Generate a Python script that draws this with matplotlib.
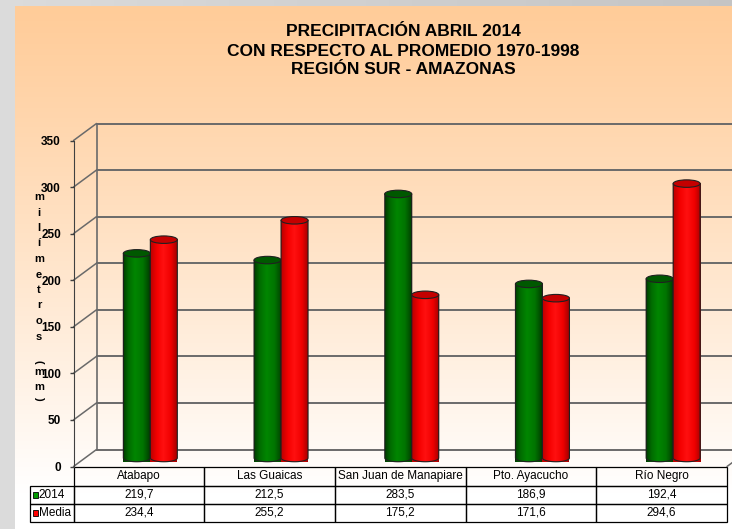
import numpy as np
import matplotlib
matplotlib.use("Agg")
import matplotlib.pyplot as plt
from matplotlib.transforms import ScaledTranslation
from matplotlib.patches import Polygon, Ellipse, Rectangle, ConnectionPatch
from matplotlib.colors import LinearSegmentedColormap
from matplotlib.table import Table

plt.rcParams["font.family"] = ["Liberation Sans", "DejaVu Sans"]

# data
categories = ["Atabapo", "Las Guaicas", "San Juan de Manapiare", "Pto. Ayacucho", "Río Negro"]
series_names = ["2014", "Media"]
values_2014 = [219.7, 212.5, 283.5, 186.9, 192.4]
values_media = [234.4, 255.2, 175.2, 171.6, 294.6]
y_ticks = [0, 50, 100, 150, 200, 250, 300, 350]
title_lines = ["PRECIPITACIÓN ABRIL 2014", "CON RESPECTO AL PROMEDIO 1970-1998", "REGIÓN SUR - AMAZONAS"]
y_label = "milímetros (mm)"

W, H = 732, 529
fig = plt.figure(figsize=(W / 100, H / 100), dpi=100)


def fy(py):
    return (H - py) / H


# background: gray frame + peach gradient
frame = fig.add_axes([0, 0, 1, 1], zorder=-20)
frame.axis("off")
gray = np.linspace(0.86, 0.77, 32).reshape(1, -1)
frame.imshow(np.dstack([gray] * 3), extent=(0, 1, 0, 1), aspect="auto")
bg = fig.add_axes([15 / W, 0, 1 - 15 / W, fy(6)], zorder=-10)
bg.axis("off")
t = np.clip(np.linspace(0, 1, 256) ** 1.1 * 1.08, 0, 1).reshape(-1, 1)
top_c = np.array([255, 204, 153]) / 255
grad = top_c + (1 - top_c) * t[..., None]
bg.imshow(grad, extent=(0, 1, 0, 1), aspect="auto")

# front plane axes
ax = fig.add_axes([73.5 / W, fy(466.5), (727 - 73.5) / W, 326 / H])
ax.patch.set_alpha(0)
dx, dy = 23, 17
back = ax.transData + ScaledTranslation(dx / 100, dy / 100, fig.dpi_scale_trans)
mid = ax.transData + ScaledTranslation(dx / 200, dy / 200, fig.dpi_scale_trans)

grid_c = "#6a6a6a"
for v in y_ticks:
    ax.plot([-0.5, 4.5], [v, v], transform=back, color=grid_c, lw=1.4, clip_on=False, zorder=1)
    ax.add_artist(ConnectionPatch((-0.5, v), (-0.5, v), coordsA=ax.transData, coordsB=back,
                                  color=grid_c, lw=1.1, zorder=1, clip_on=False))
ax.plot([-0.5, -0.5], [0, 350], transform=back, color=grid_c, lw=1.2, clip_on=False, zorder=1)
ax.add_artist(ConnectionPatch((4.5, 0), (4.5, 0), coordsA=ax.transData, coordsB=back,
                              color=grid_c, lw=1.1, zorder=1, clip_on=False))

# cylinders
green_cmap = LinearSegmentedColormap.from_list(
    "g", [(0, "#003c00"), (0.2, "#006c00"), (0.45, "#008600"), (0.75, "#007400"), (1, "#004000")])
red_cmap = LinearSegmentedColormap.from_list(
    "r", [(0, "#b80000"), (0.25, "#f40000"), (0.5, "#ff1010"), (0.78, "#f00000"), (1, "#a80000")])
shade = np.linspace(0, 1, 64).reshape(1, -1)
bar_w = 27 / 130.7
ell_h = 7.5 * 350 / 326


def cylinder(xc, v, cmap, top_color, z):
    x0, x1 = xc - bar_w / 2, xc + bar_w / 2
    a = np.linspace(np.pi, 2 * np.pi, 40)
    pts = [(x0, v)] + list(zip(xc + bar_w / 2 * np.cos(a), ell_h / 2 * np.sin(a))) + [(x1, v)]
    body = Polygon(pts, closed=True, transform=mid, facecolor="none",
                   edgecolor="#202020", lw=0.8, zorder=z + 0.05, clip_on=False)
    ax.add_patch(body)
    im = ax.imshow(shade, cmap=cmap, extent=(x0, x1, -ell_h / 2, v), transform=mid,
                   aspect="auto", interpolation="bilinear", zorder=z, clip_on=False)
    im.set_clip_path(body)
    ax.add_patch(Ellipse((xc, v), bar_w, ell_h, transform=mid, facecolor=top_color,
                         edgecolor="#202020", lw=0.8, zorder=z + 0.1, clip_on=False))


for i in range(len(categories)):
    cylinder(i - bar_w / 2, values_2014[i], green_cmap, "#005800", 3 + i)
    cylinder(i + bar_w / 2, values_media[i], red_cmap, "#c40000", 3.5 + i)

ax.set_xlim(-0.5, 4.5)
ax.set_ylim(0, 350)
ax.set_xticks([])
ax.set_yticks(y_ticks)
for s in ["top", "right", "bottom"]:
    ax.spines[s].set_visible(False)
ax.spines["left"].set_color("#404040")
ax.tick_params(axis="y", direction="out", length=3, width=1, color="#404040", pad=6, labelsize=8.5)
for lbl in ax.get_yticklabels():
    lbl.set_fontweight("bold")

# data table under the floor
fmt = lambda v: f"{v:.1f}".replace(".", ",")
label_w = 43.5 / 653.5
head_h, row_h = 19 / 326, 18 / 326
tbl = Table(ax, bbox=[-label_w, -(head_h + 2 * row_h), 1 + label_w, head_h + 2 * row_h])
tbl.auto_set_font_size(False)
for c, name in enumerate(categories):
    tbl.add_cell(0, c + 1, 0.2, head_h, text=name, loc="center", facecolor="none")
corner = tbl.add_cell(0, 0, label_w, head_h, text="", facecolor="none")
corner.visible_edges = "open"
for r, (name, vals) in enumerate(zip(series_names, [values_2014, values_media])):
    cell = tbl.add_cell(r + 1, 0, label_w, row_h, text=name, loc="left", facecolor="none")
    cell.PAD = 0.2
    for c, v in enumerate(vals):
        tbl.add_cell(r + 1, c + 1, 0.2, row_h, text=fmt(v), loc="center", facecolor="none")
tbl.set_fontsize(8.5)
for cell in tbl.get_celld().values():
    cell.set_edgecolor("black")
    cell.set_linewidth(0.9)
ax.add_table(tbl)

key_colors = ["#009a00", "#ff0000"]
for k, col in enumerate(key_colors):
    yc = -head_h - row_h * (0.5 + k)
    ax.add_patch(Rectangle((-40.5 / 653.5, yc - 3 / 326), 5 / 653.5, 6 / 326,
                           transform=ax.transAxes, facecolor=col, edgecolor="black",
                           lw=0.6, clip_on=False, zorder=6))

# title
for line, yb in zip(title_lines, [35.7, 56.5, 74]):
    fig.text(403.5 / W, fy(yb), line, ha="center", va="baseline",
             fontsize=12.5, fontweight="bold")

# stacked y label, one upright character per step, brackets turned
y = 197
prev = None
for ch in y_label:
    h = 5 if ch in "()" else 15 if ch == " " else 15.5
    if prev is not None:
        y += (prev + h) / 2
    if ch.strip():
        fig.text(39 / W, fy(y), ch, ha="center", va="center", fontsize=8,
                 fontweight="bold", rotation=-90 if ch in "()" else 0)
    prev = h

fig.savefig("out.png", dpi=100)
